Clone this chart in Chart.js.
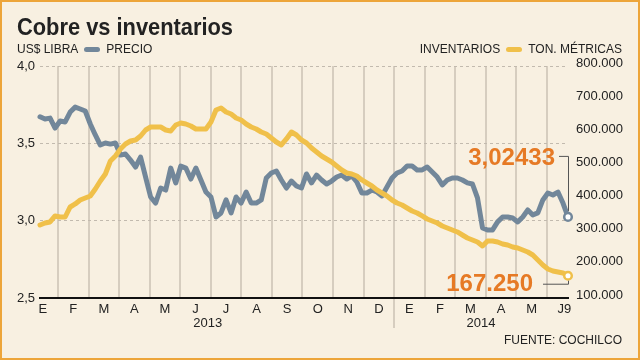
<!DOCTYPE html>
<html>
<head>
<meta charset="utf-8">
<script src="https://cdn.jsdelivr.net/npm/chart.js@4.4.1/dist/chart.umd.min.js"></script>
<style>
  html, body { margin: 0; padding: 0; }
  body {
    width: 640px; height: 360px; position: relative; overflow: hidden;
    background: #f8f0e1; color: #222;
    font-family: "Liberation Sans", Arial, sans-serif;
  }
  canvas { position: absolute; left: 0; top: 0; }
  #marco {
    position: absolute; left: 0; top: 0; width: 640px; height: 360px;
    box-sizing: border-box; border: 2px solid #eda53a; pointer-events: none;
  }
  #titulo {
    position: absolute; left: 17px; top: 15px; white-space: nowrap;
    font: bold 24px/24px "Liberation Sans Narrow", "Liberation Sans", sans-serif;
    transform-origin: 0 0;
  }
  .leyenda {
    position: absolute; top: 43px; font-size: 12px; line-height: 12px;
    display: flex; align-items: center; white-space: nowrap;
  }
  .muestra { display: inline-block; width: 16px; height: 5px; border-radius: 3px; margin: 0 6px; }
  #fuente { position: absolute; right: 18px; top: 334px; font-size: 12px; line-height: 12px; }
</style>
</head>
<body>
<canvas id="grafico" width="640" height="360"></canvas>
<div id="titulo">Cobre vs inventarios</div>
<div class="leyenda" style="left:17px">US$ LIBRA<span class="muestra" style="background:#72879a"></span>PRECIO</div>
<div class="leyenda" style="right:18px">INVENTARIOS<span class="muestra" style="background:#f0c04a"></span>TON. MÉTRICAS</div>
<div id="fuente">FUENTE: COCHILCO</div>
<div id="marco"></div>

<script>
// meses desde el 1 de enero de 2013 (eje x)
const MES_INICIO = 0.41;
const MES_FIN = 17.69;

const meses = ["E", "F", "M", "A", "M", "J", "J", "A", "S", "O", "N", "D",
               "E", "F", "M", "A", "M", "J9"];
const anios = ["2013", "2014"];

// US$ por libra, muestras equiespaciadas
const precio = [
  3.672, 3.657, 3.663, 3.599, 3.644, 3.638, 3.702, 3.734, 3.722, 3.709,
  3.625, 3.554, 3.489, 3.502, 3.495, 3.502, 3.424, 3.431, 3.392, 3.347,
  3.411, 3.282, 3.153, 3.114, 3.211, 3.198, 3.340, 3.244, 3.353, 3.340,
  3.269, 3.340, 3.263, 3.185, 3.153, 3.024, 3.050, 3.134, 3.050, 3.153,
  3.114, 3.185, 3.114, 3.114, 3.134, 3.276, 3.308, 3.321, 3.263, 3.211,
  3.256, 3.224, 3.211, 3.302, 3.244, 3.295, 3.263, 3.237, 3.256, 3.282,
  3.295, 3.269, 3.289, 3.250, 3.179, 3.179, 3.198, 3.185, 3.160, 3.218,
  3.276, 3.308, 3.321, 3.353, 3.353, 3.328, 3.328, 3.347, 3.315, 3.282,
  3.231, 3.263, 3.276, 3.276, 3.263, 3.244, 3.237, 3.147, 2.953, 2.940,
  2.940, 2.992, 3.024, 3.024, 3.017, 2.992, 3.024, 3.069, 3.037, 3.050,
  3.134, 3.179, 3.166, 3.185, 3.114, 3.02433
];

// inventarios, miles de toneladas métricas
const inventario = [
  320.3, 326.3, 329.4, 347.5, 344.4, 344.4, 374.6, 383.7, 395.7, 401.8,
  407.8, 428.9, 453.0, 474.2, 513.4, 528.5, 549.6, 564.7, 573.7, 576.7,
  588.8, 606.9, 615.9, 615.9, 615.9, 606.9, 603.9, 622.0, 628.0, 625.0,
  619.0, 609.9, 609.9, 609.9, 631.0, 667.3, 673.3, 661.2, 655.2, 643.1,
  637.1, 625.0, 615.9, 609.9, 600.9, 594.8, 582.8, 570.7, 561.7, 579.8,
  600.9, 591.8, 576.7, 567.7, 552.6, 540.5, 528.5, 519.4, 510.4, 498.3,
  486.2, 477.2, 474.2, 468.1, 456.1, 447.0, 438.0, 425.9, 416.8, 407.8,
  395.7, 386.7, 380.6, 371.6, 362.5, 356.5, 347.5, 338.4, 332.4, 326.3,
  317.3, 311.2, 305.2, 299.2, 290.1, 281.1, 275.0, 269.0, 256.9, 272.0,
  272.0, 269.0, 263.0, 260.0, 253.9, 250.9, 244.9, 238.8, 229.8, 214.7,
  199.6, 187.5, 181.5, 178.5, 175.5, 167.25
];

const GRIS = "#72879a";
const AMARILLO = "#f0c04a";
const NARANJA = "#e67a25";
const REJILLA = "#d6cdbf";

const mesDe = (i, n) => MES_INICIO + i * (MES_FIN - MES_INICIO) / (n - 1);
const aPuntos = (serie) => serie.map((v, i) => ({ x: mesDe(i, serie.length), y: v }));

// etiquetas en el centro de cada mes, la última en el extremo
const posMeses = meses.map((m, i) => (i < meses.length - 1 ? i + 0.5 : MES_FIN - 0.12));
const limitesMes = [];
for (let m = 1; m < 18; m++) limitesMes.push(m);

const miles = (v) => {
  const s = Math.round(v * 1000).toString();
  return s.replace(/\B(?=(\d{3})+(?!\d))/g, ".");
};

const anotaciones = {
  id: "anotaciones",
  afterDatasetsDraw(chart) {
    const { ctx, scales } = chart;
    const xs = scales.x;
    ctx.save();

    // años
    ctx.font = '13px "Liberation Sans", Arial, sans-serif';
    ctx.fillStyle = "#222";
    ctx.textAlign = "center";
    ctx.textBaseline = "alphabetic";
    ctx.fillText(anios[0], xs.getPixelForValue(5.9), 327);
    ctx.fillText(anios[1], xs.getPixelForValue((12 + MES_FIN) / 2), 327);

    // últimos valores
    const px = xs.getPixelForValue(MES_FIN);
    const pyP = scales.y.getPixelForValue(precio[precio.length - 1]);
    const pyI = scales.y1.getPixelForValue(inventario[inventario.length - 1]);

    ctx.strokeStyle = "#555";
    ctx.lineWidth = 1;
    ctx.beginPath();
    ctx.moveTo(px - 9, pyP - 60.5);
    ctx.lineTo(px + 0.5, pyP - 60.5);
    ctx.lineTo(px + 0.5, pyP - 6);
    ctx.moveTo(px - 25, pyI + 8.5);
    ctx.lineTo(px + 0.5, pyI + 8.5);
    ctx.lineTo(px + 0.5, pyI + 5);
    ctx.stroke();

    ctx.font = 'bold 24px "Liberation Sans", Arial, sans-serif';
    ctx.fillStyle = NARANJA;
    ctx.textAlign = "right";
    ctx.fillText(String(precio[precio.length - 1]).replace(".", ","), px - 13, pyP - 52);
    ctx.fillText(miles(inventario[inventario.length - 1]), px - 35, pyI + 15);
    ctx.restore();
  }
};

const ultimo = (n, r) => (c) => (c.dataIndex === n - 1 ? r : 0);

new Chart(document.getElementById("grafico").getContext("2d"), {
  type: "line",
  data: {
    datasets: [
      {
        label: "Precio",
        data: aPuntos(precio),
        xAxisID: "x",
        yAxisID: "y",
        borderColor: GRIS,
        borderWidth: 5,
        borderJoinStyle: "round",
        borderCapStyle: "round",
        tension: 0,
        pointRadius: ultimo(precio.length, 3.8),
        pointBackgroundColor: "#fff",
        pointBorderColor: GRIS,
        pointBorderWidth: 2.5,
        clip: false,
        order: 1
      },
      {
        label: "Inventarios",
        data: aPuntos(inventario),
        xAxisID: "x",
        yAxisID: "y1",
        borderColor: AMARILLO,
        borderWidth: 5,
        borderJoinStyle: "round",
        borderCapStyle: "round",
        tension: 0,
        pointRadius: ultimo(inventario.length, 3.8),
        pointBackgroundColor: "#fff",
        pointBorderColor: AMARILLO,
        pointBorderWidth: 2.5,
        clip: false,
        order: 0
      }
    ]
  },
  options: {
    responsive: false,
    animation: false,
    layout: { padding: { top: 66, left: 0, right: 0, bottom: 0 } },
    plugins: { legend: { display: false }, tooltip: { enabled: false } },
    scales: {
      x: {
        type: "linear",
        position: "bottom",
        weight: 1,
        min: MES_INICIO,
        max: MES_FIN,
        afterBuildTicks: (s) => { s.ticks = posMeses.map((v) => ({ value: v })); },
        afterFit: (s) => { s.height = 62; },
        grid: { display: false, drawTicks: false },
        border: { display: true, color: "#111", width: 2 },
        ticks: {
          autoSkip: false,
          maxRotation: 0,
          padding: 4,
          color: "#222",
          font: { size: 13, family: '"Liberation Sans", Arial, sans-serif' },
          callback: (v, i) => meses[i]
        }
      },
      xg: {
        type: "linear",
        position: "bottom",
        weight: 0,
        min: MES_INICIO,
        max: MES_FIN,
        afterBuildTicks: (s) => { s.ticks = limitesMes.map((v) => ({ value: v })); },
        afterFit: (s) => { s.height = 0; },
        grid: {
          color: REJILLA,
          lineWidth: 2,
          drawTicks: true,
          tickLength: 30,
          tickColor: (c) => (c.tick && c.tick.value === 12 ? REJILLA : "rgba(0,0,0,0)")
        },
        border: { display: false },
        ticks: { display: false }
      },
      y: {
        position: "left",
        min: 2.5,
        max: 4.0,
        afterFit: (s) => { s.width = 40; },
        grid: {
          color: (c) => (c.tick && c.tick.value === 2.5 ? "rgba(0,0,0,0)" : "#c2baae"),
          lineWidth: 1,
          drawTicks: false
        },
        border: { display: false, dash: [3, 3] },
        ticks: {
          stepSize: 0.5,
          padding: 5,
          color: "#222",
          font: { size: 13, family: '"Liberation Sans", Arial, sans-serif' },
          callback: (v) => v.toFixed(1).replace(".", ",")
        }
      },
      y1: {
        position: "right",
        min: 100,
        max: 800,
        afterFit: (s) => { s.width = 72; },
        grid: { display: false, drawTicks: false },
        border: { display: false },
        ticks: {
          stepSize: 100,
          padding: 8,
          labelOffset: -3,
          color: "#222",
          font: { size: 13, family: '"Liberation Sans", Arial, sans-serif' },
          callback: (v) => miles(v)
        }
      }
    }
  },
  plugins: [anotaciones]
});

// el título es condensado: ajustarlo al ancho del original
const titulo = document.getElementById("titulo");
const ancho = titulo.getBoundingClientRect().width;
titulo.style.transform = "scaleX(" + (216 / ancho) + ")";
</script>
</body>
</html>
